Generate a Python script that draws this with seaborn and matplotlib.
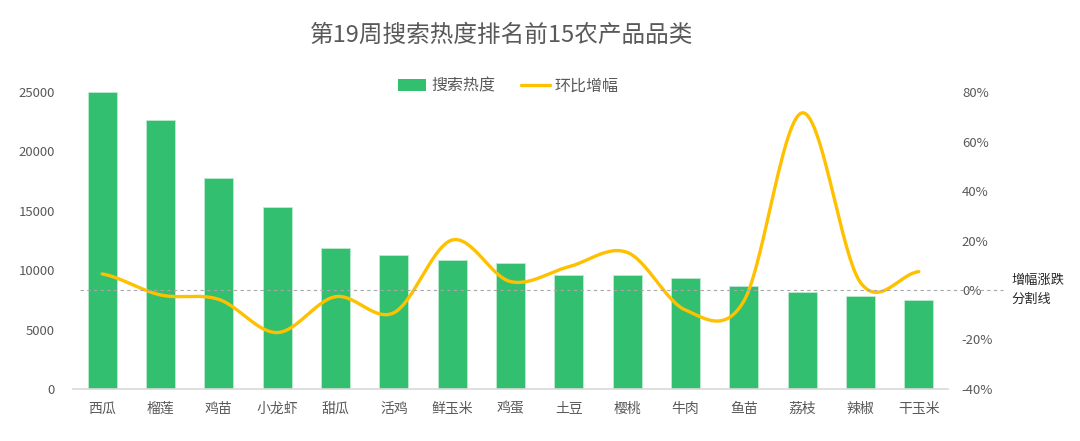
import numpy as np
import pandas as pd
import matplotlib
matplotlib.use("Agg")
import matplotlib.pyplot as plt
import seaborn as sns
from matplotlib.patches import Patch
from matplotlib.lines import Line2D
from matplotlib.ticker import FuncFormatter

# ---- data ----
categories = ["西瓜", "榴莲", "鸡苗", "小龙虾", "甜瓜", "活鸡", "鲜玉米", "鸡蛋",
              "土豆", "樱桃", "牛肉", "鱼苗", "荔枝", "辣椒", "干玉米"]
search_heat = [25000, 22650, 17780, 15320, 11870, 11300, 10880, 10620,
               9600, 9600, 9350, 8680, 8180, 7830, 7500]
mom_change = [6.5, -2.0, -3.8, -17.2, -2.7, -9.2, 20.2, 3.4,
              9.4, 15.2, -8.1, -4.5, 71.6, 3.0, 7.4]  # percent
left_ticks = [0, 5000, 10000, 15000, 20000, 25000]
right_ticks = [-40, -20, 0, 20, 40, 60, 80]

title = "第19周搜索热度排名前15农产品品类"
legend_labels = ["搜索热度", "环比增幅"]
note = "增幅涨跌\n分割线"

BAR = "#33BF70"
LINE = "#FFC000"
GREY = "#595959"

sns.set_theme(style="white")
plt.rcParams["font.family"] = ["Noto Sans CJK SC", "DejaVu Sans"]

fig = plt.figure(figsize=(10.8, 4.41), dpi=100)
ax = fig.add_axes([73 / 1080, (441 - 389) / 441, (948 - 73) / 1080, (389 - 92) / 441])

df = pd.DataFrame({"cat": categories, "heat": search_heat})
sns.barplot(data=df, x="cat", y="heat", ax=ax, color=BAR, width=0.5,
            saturation=1, edgecolor="#BFEBD0", linewidth=0.6)
ax.set_xlim(-0.5, len(categories) - 0.5)
ax.set_ylim(0, 25000)
ax.set_yticks(left_ticks)
ax.set_xlabel("")
ax.set_ylabel("")
for s in ["top", "right", "left"]:
    ax.spines[s].set_visible(False)
ax.spines["bottom"].set_color("#D9D9D9")
ax.spines["bottom"].set_linewidth(1.2)
ax.tick_params(axis="x", length=0, pad=9, labelsize=10, labelcolor=GREY)
ax.tick_params(axis="y", length=0, pad=13, labelsize=9.5, labelcolor=GREY)

# secondary axis: smoothed line (Catmull-Rom through the data points)
ax2 = ax.twinx()
ax2.set_ylim(-40, 80)
ax2.set_yticks(right_ticks)
ax2.yaxis.set_major_formatter(FuncFormatter(lambda v, p: f"{int(v)}%"))
for s in ["top", "right", "left", "bottom"]:
    ax2.spines[s].set_visible(False)
ax2.tick_params(axis="y", length=0, pad=10, labelsize=9.5, labelcolor=GREY)
ax2.grid(False)
ax.grid(False)

y = np.array(mom_change, dtype=float)
xi = np.arange(len(y), dtype=float)
P = np.concatenate([[y[0]], y, [y[-1]]])
xs, ys = [], []
t = np.linspace(0, 1, 30)
for i in range(len(y) - 1):
    p0, p1, p2, p3 = P[i], P[i + 1], P[i + 2], P[i + 3]
    seg = 0.5 * ((2 * p1) + (-p0 + p2) * t + (2 * p0 - 5 * p1 + 4 * p2 - p3) * t ** 2
                 + (-p0 + 3 * p1 - 3 * p2 + p3) * t ** 3)
    xs.extend(xi[i] + t)
    ys.extend(seg)
curve = pd.DataFrame({"x": xs, "y": ys})
sns.lineplot(data=curve, x="x", y="y", ax=ax2, color=LINE, linewidth=2.4,
             sort=False, estimator=None)
ax2.set_xlabel("")
ax2.set_ylabel("")
ax2.set_xlim(-0.5, len(categories) - 0.5)

# zero divider line spanning across figure (drawn on top)
yz = (441 - 290) / 441
fig.add_artist(Line2D([80 / 1080, 1003 / 1080], [yz, yz], color="#A6A6A6",
                      linewidth=0.8, linestyle=(0, (3, 3)), zorder=5))
fig.text(1011 / 1080, yz, note, ha="left", va="center", fontsize=9.5,
         color="#262626", linespacing=1.6)

# title
fig.text(502 / 1080, 1 - 35 / 441, title, ha="center", va="center",
         fontsize=17, color=GREY)

# legend
handles = [Patch(facecolor=BAR, edgecolor="none"),
           Line2D([0], [0], color=LINE, linewidth=2.4)]
fig.legend(handles, legend_labels, loc="center", bbox_to_anchor=(508 / 1080, 1 - 86 / 441),
           ncol=2, frameon=False, fontsize=11.5, labelcolor=GREY,
           handlelength=1.8, handleheight=0.7, columnspacing=1.6, handletextpad=0.3)

fig.savefig("out.png", dpi=100)
